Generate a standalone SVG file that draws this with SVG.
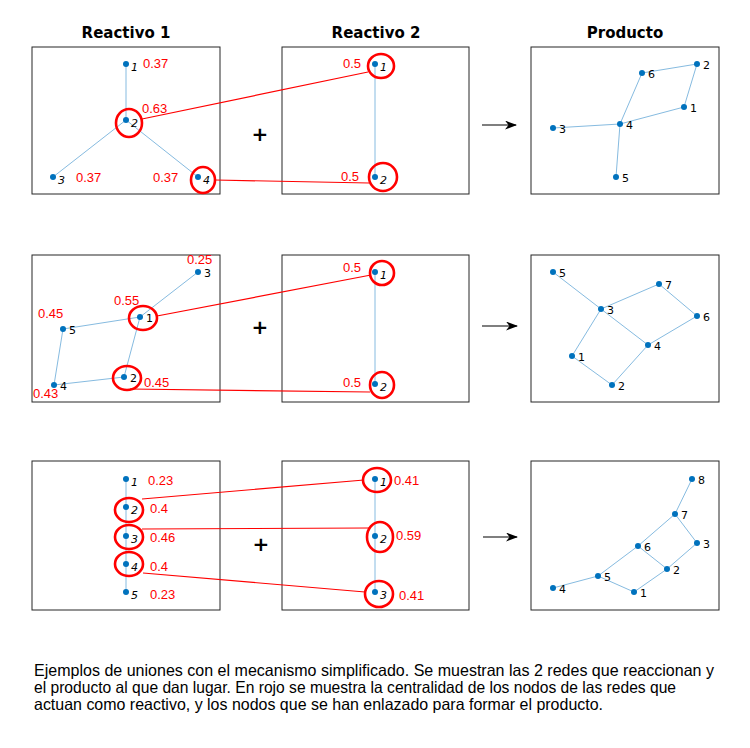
<svg xmlns="http://www.w3.org/2000/svg" width="750" height="748" viewBox="0 0 750 748">
<defs>
<marker id="ah" markerWidth="12" markerHeight="9" refX="11" refY="4.5" orient="auto" markerUnits="userSpaceOnUse">
<path d="M0,0 L12,4.5 L0,9 L3.5,4.5 Z" fill="#000"/>
</marker>
<style>
.box{fill:#fff;stroke:#262626;stroke-width:1}
.e{stroke:#86bbe0;stroke-width:1;fill:none}
.n{fill:#0072bd}
.lb{font-family:"DejaVu Sans",sans-serif;font-size:11px;fill:#000}
.li{font-family:"DejaVu Sans",sans-serif;font-size:11px;font-style:italic;fill:#000}
.rv{font-family:"Liberation Sans",Arial,sans-serif;font-size:13px;fill:#ff0000}
.rc{fill:none;stroke:#ff0000;stroke-width:2.6}
.rl{stroke:#ff0000;stroke-width:1.2;fill:none}
.ttl{font-family:"DejaVu Sans",sans-serif;font-size:15px;font-weight:bold;text-anchor:middle;fill:#000}
.plus{font-family:"DejaVu Sans",sans-serif;font-size:20px;font-weight:bold;text-anchor:middle;fill:#000}
.arr{stroke:#000;stroke-width:1.2;fill:none}
.cap{font-family:"Liberation Sans",Arial,sans-serif;font-size:16.5px;fill:#000}
</style>
</defs>
<rect width="750" height="748" fill="#fff"/>

<g id="titles">
<text class="ttl" x="126" y="38">Reactivo 1</text>
<text class="ttl" x="376" y="38">Reactivo 2</text>
<text class="ttl" x="625" y="38">Producto</text>
</g>

<g id="boxes">
<rect class="box" x="32" y="47" width="188" height="147"/>
<rect class="box" x="282" y="47" width="187" height="147"/>
<rect class="box" x="531" y="47" width="188" height="147"/>
<rect class="box" x="32" y="255" width="188" height="147"/>
<rect class="box" x="282" y="255" width="187" height="147"/>
<rect class="box" x="531" y="255" width="188" height="147"/>
<rect class="box" x="32" y="461" width="188" height="149"/>
<rect class="box" x="282" y="461" width="187" height="149"/>
<rect class="box" x="531" y="461" width="188" height="149"/>
</g>

<g id="connectors">
<line class="e" x1="126" y1="64" x2="126" y2="120"/>
<line class="e" x1="126" y1="120" x2="53" y2="177"/>
<line class="e" x1="126" y1="120" x2="198" y2="177"/>
<line class="e" x1="375" y1="64" x2="375" y2="177"/>
<line class="e" x1="642" y1="73" x2="697" y2="64"/>
<line class="e" x1="697" y1="64" x2="684" y2="107"/>
<line class="e" x1="684" y1="107" x2="620" y2="124"/>
<line class="e" x1="620" y1="124" x2="642" y2="73"/>
<line class="e" x1="553" y1="128" x2="620" y2="124"/>
<line class="e" x1="620" y1="124" x2="616" y2="177"/>
<line class="e" x1="198" y1="272" x2="140" y2="317"/>
<line class="e" x1="140" y1="317" x2="63" y2="329"/>
<line class="e" x1="63" y1="329" x2="54" y2="385"/>
<line class="e" x1="54" y1="385" x2="124" y2="377"/>
<line class="e" x1="124" y1="377" x2="140" y2="317"/>
<line class="e" x1="375" y1="272" x2="375" y2="384"/>
<line class="e" x1="553" y1="272" x2="601" y2="309"/>
<line class="e" x1="601" y1="309" x2="659" y2="284"/>
<line class="e" x1="659" y1="284" x2="697" y2="316"/>
<line class="e" x1="697" y1="316" x2="648" y2="345"/>
<line class="e" x1="648" y1="345" x2="601" y2="309"/>
<line class="e" x1="601" y1="309" x2="572" y2="356"/>
<line class="e" x1="572" y1="356" x2="612" y2="385"/>
<line class="e" x1="612" y1="385" x2="648" y2="345"/>
<line class="e" x1="126" y1="479" x2="126" y2="592"/>
<line class="e" x1="375" y1="479" x2="375" y2="592"/>
<line class="e" x1="692" y1="479" x2="675" y2="514"/>
<line class="e" x1="675" y1="514" x2="697" y2="543"/>
<line class="e" x1="675" y1="514" x2="638" y2="546"/>
<line class="e" x1="638" y1="546" x2="598" y2="576"/>
<line class="e" x1="638" y1="546" x2="667" y2="569"/>
<line class="e" x1="697" y1="543" x2="667" y2="569"/>
<line class="e" x1="667" y1="569" x2="634" y2="592"/>
<line class="e" x1="634" y1="592" x2="598" y2="576"/>
<line class="e" x1="598" y1="576" x2="553" y2="588"/>
<line class="rl" x1="142" y1="119" x2="368" y2="72"/>
<line class="rl" x1="215" y1="180" x2="369" y2="183"/>
<line class="rl" x1="157" y1="316" x2="371" y2="275"/>
<line class="rl" x1="130" y1="389" x2="370" y2="392"/>
<line class="rl" x1="142" y1="499" x2="364" y2="480"/>
<line class="rl" x1="142" y1="529" x2="369" y2="528"/>
<line class="rl" x1="143" y1="573" x2="365" y2="592"/>
<line class="arr" x1="482" y1="125" x2="516" y2="125" marker-end="url(#ah)"/>
<line class="arr" x1="482" y1="326" x2="517" y2="326" marker-end="url(#ah)"/>
<line class="arr" x1="483" y1="537" x2="517" y2="537" marker-end="url(#ah)"/>
</g>

<g id="plus">
<text class="plus" x="260" y="141">+</text>
<text class="plus" x="260" y="334">+</text>
<text class="plus" x="261" y="551">+</text>
</g>

<g id="r1a">
<circle class="n" cx="126" cy="64" r="3"/><text class="li" x="131" y="71">1</text>
<circle class="n" cx="126" cy="120" r="3"/><text class="li" x="131" y="127">2</text>
<circle class="n" cx="53" cy="177" r="3"/><text class="li" x="58" y="184">3</text>
<circle class="n" cx="198" cy="177" r="3"/><text class="li" x="203" y="184">4</text>
<ellipse class="rc" cx="129" cy="123" rx="13" ry="14"/>
<ellipse class="rc" cx="203" cy="180" rx="12" ry="13"/>
<text class="rv" x="143" y="68">0.37</text>
<text class="rv" x="142" y="113">0.63</text>
<text class="rv" x="76" y="182">0.37</text>
<text class="rv" x="153" y="182">0.37</text>
</g>
<g id="r1b">
<circle class="n" cx="375" cy="64" r="3"/><text class="li" x="380" y="71">1</text>
<circle class="n" cx="375" cy="177" r="3"/><text class="li" x="380" y="184">2</text>
<ellipse class="rc" cx="381" cy="66" rx="13" ry="12"/>
<ellipse class="rc" cx="383" cy="177" rx="14" ry="14"/>
<text class="rv" x="343" y="68">0.5</text>
<text class="rv" x="341" y="181">0.5</text>
</g>
<g id="r1p">
<circle class="n" cx="642" cy="73" r="3"/><text class="lb" x="648" y="78">6</text>
<circle class="n" cx="697" cy="64" r="3"/><text class="lb" x="703" y="69">2</text>
<circle class="n" cx="684" cy="107" r="3"/><text class="lb" x="690" y="112">1</text>
<circle class="n" cx="620" cy="124" r="3"/><text class="lb" x="626" y="129">4</text>
<circle class="n" cx="553" cy="128" r="3"/><text class="lb" x="559" y="133">3</text>
<circle class="n" cx="616" cy="177" r="3"/><text class="lb" x="622" y="182">5</text>
</g>

<g id="r2a">
<circle class="n" cx="198" cy="272" r="3"/><text class="lb" x="204" y="277">3</text>
<circle class="n" cx="140" cy="317" r="3"/><text class="lb" x="146" y="322">1</text>
<circle class="n" cx="63" cy="329" r="3"/><text class="lb" x="69" y="334">5</text>
<circle class="n" cx="54" cy="385" r="3"/><text class="lb" x="60" y="390">4</text>
<circle class="n" cx="124" cy="377" r="3"/><text class="lb" x="130" y="382">2</text>
<ellipse class="rc" cx="143" cy="318" rx="14" ry="12"/>
<ellipse class="rc" cx="127" cy="378" rx="14" ry="12"/>
<text class="rv" x="187" y="264">0.25</text>
<text class="rv" x="114" y="305">0.55</text>
<text class="rv" x="38" y="318">0.45</text>
<text class="rv" x="33" y="398">0.43</text>
<text class="rv" x="144" y="387">0.45</text>
</g>
<g id="r2b">
<circle class="n" cx="375" cy="272" r="3"/><text class="li" x="380" y="279">1</text>
<circle class="n" cx="375" cy="384" r="3"/><text class="li" x="380" y="391">2</text>
<ellipse class="rc" cx="382" cy="273" rx="12" ry="12"/>
<ellipse class="rc" cx="382" cy="385" rx="12" ry="13"/>
<text class="rv" x="343" y="272">0.5</text>
<text class="rv" x="343" y="387">0.5</text>
</g>
<g id="r2p">
<circle class="n" cx="553" cy="272" r="3"/><text class="lb" x="559" y="277">5</text>
<circle class="n" cx="601" cy="309" r="3"/><text class="lb" x="607" y="314">3</text>
<circle class="n" cx="659" cy="284" r="3"/><text class="lb" x="665" y="289">7</text>
<circle class="n" cx="697" cy="316" r="3"/><text class="lb" x="703" y="321">6</text>
<circle class="n" cx="648" cy="345" r="3"/><text class="lb" x="654" y="350">4</text>
<circle class="n" cx="572" cy="356" r="3"/><text class="lb" x="578" y="361">1</text>
<circle class="n" cx="612" cy="385" r="3"/><text class="lb" x="618" y="390">2</text>
</g>

<g id="r3a">
<circle class="n" cx="126" cy="479" r="3"/><text class="li" x="131" y="486">1</text>
<circle class="n" cx="126" cy="507" r="3"/><text class="li" x="131" y="514">2</text>
<circle class="n" cx="126" cy="536" r="3"/><text class="li" x="131" y="543">3</text>
<circle class="n" cx="126" cy="564" r="3"/><text class="li" x="131" y="571">4</text>
<circle class="n" cx="126" cy="592" r="3"/><text class="li" x="131" y="599">5</text>
<ellipse class="rc" cx="129" cy="510" rx="14" ry="12"/>
<ellipse class="rc" cx="129" cy="537" rx="14" ry="12"/>
<ellipse class="rc" cx="129" cy="564" rx="14" ry="12"/>
<text class="rv" x="148" y="485">0.23</text>
<text class="rv" x="150" y="513">0.4</text>
<text class="rv" x="150" y="542">0.46</text>
<text class="rv" x="150" y="571">0.4</text>
<text class="rv" x="150" y="599">0.23</text>
</g>
<g id="r3b">
<circle class="n" cx="375" cy="479" r="3"/><text class="li" x="380" y="486">1</text>
<circle class="n" cx="375" cy="536" r="3"/><text class="li" x="380" y="543">2</text>
<circle class="n" cx="375" cy="592" r="3"/><text class="li" x="380" y="599">3</text>
<ellipse class="rc" cx="377" cy="480" rx="14" ry="12"/>
<ellipse class="rc" cx="380" cy="537" rx="13" ry="15"/>
<ellipse class="rc" cx="379" cy="594" rx="14" ry="13"/>
<text class="rv" x="394" y="485">0.41</text>
<text class="rv" x="396" y="540">0.59</text>
<text class="rv" x="399" y="600">0.41</text>
</g>
<g id="r3p">
<circle class="n" cx="692" cy="479" r="3"/><text class="lb" x="698" y="484">8</text>
<circle class="n" cx="675" cy="514" r="3"/><text class="lb" x="681" y="519">7</text>
<circle class="n" cx="697" cy="543" r="3"/><text class="lb" x="703" y="548">3</text>
<circle class="n" cx="638" cy="546" r="3"/><text class="lb" x="644" y="551">6</text>
<circle class="n" cx="667" cy="569" r="3"/><text class="lb" x="673" y="574">2</text>
<circle class="n" cx="598" cy="576" r="3"/><text class="lb" x="604" y="581">5</text>
<circle class="n" cx="634" cy="592" r="3"/><text class="lb" x="640" y="597">1</text>
<circle class="n" cx="553" cy="588" r="3"/><text class="lb" x="559" y="593">4</text>
</g>

<g id="caption">
<text class="cap" x="34" y="676" textLength="680" lengthAdjust="spacingAndGlyphs">Ejemplos de uniones con el mecanismo simplificado. Se muestran las 2 redes que reaccionan y</text>
<text class="cap" x="34" y="693" textLength="642" lengthAdjust="spacingAndGlyphs">el producto al que dan lugar. En rojo se muestra la centralidad de los nodos de las redes que</text>
<text class="cap" x="34" y="710" textLength="569" lengthAdjust="spacingAndGlyphs">actuan como reactivo, y los nodos que se han enlazado para formar el producto.</text>
</g>
</svg>
